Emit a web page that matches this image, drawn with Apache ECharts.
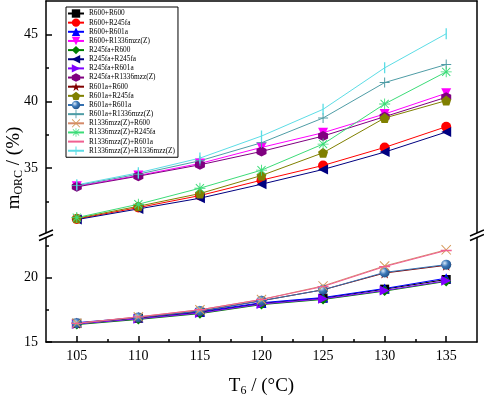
<!DOCTYPE html>
<html>
<head>
<meta charset="utf-8">
<script src="https://cdn.jsdelivr.net/npm/echarts@6/dist/echarts.min.js"></script>
<style>
  html, body { margin: 0; padding: 0; background: #fff; }
  #chart { width: 484px; height: 398px; }
</style>
</head>
<body>
<div id="chart"></div>
<script>
// temperatures T6 (°C)
var temps = [105, 110, 115, 120, 125, 130, 135];
var xTicks = [105, 110, 115, 120, 125, 130, 135];
var xMinorTicks = [107.5, 112.5, 117.5, 122.5, 127.5, 132.5];
var yTicksTop = [35, 40, 45];
var yMinorTop = [32.5, 37.5, 42.5];
var yTicksBottom = [15, 20];
var yMinorBottom = [17.5, 22.5];

var seriesNames = [
    'R600+R600', 'R600+R245fa', 'R600+R601a', 'R600+R1336mzz(Z)',
    'R245fa+R600', 'R245fa+R245fa', 'R245fa+R601a', 'R245fa+R1336mzz(Z)',
    'R601a+R600', 'R601a+R245fa', 'R601a+R601a', 'R601a+R1336mzz(Z)',
    'R1336mzz(Z)+R600', 'R1336mzz(Z)+R245fa', 'R1336mzz(Z)+R601a', 'R1336mzz(Z)+R1336mzz(Z)'
];

// m_ORC (%)
var r600_r600 = [16.45, 16.85, 17.30, 18.00, 18.40, 19.10, 19.85];
var r600_r245fa = [31.20, 32.05, 32.95, 34.10, 35.20, 36.55, 38.10];
var r600_r601a = [16.50, 16.90, 17.35, 18.05, 18.45, 19.15, 19.95];
var r600_r1336 = [33.65, 34.45, 35.35, 36.55, 37.65, 39.05, 40.60];
var r245fa_r600 = [16.35, 16.75, 17.20, 17.90, 18.30, 18.95, 19.70];
var r245fa_r245fa = [31.15, 31.95, 32.75, 33.80, 34.90, 36.20, 37.70];
var r245fa_r601a = [16.40, 16.80, 17.25, 17.95, 18.35, 19.00, 19.75];
var r245fa_r1336 = [33.60, 34.40, 35.25, 36.25, 37.40, 38.85, 40.30];
var r601a_r600 = [16.45, 16.90, 17.40, 18.20, 19.05, 20.35, 20.95];
var r601a_r245fa = [31.25, 32.15, 33.10, 34.45, 36.15, 38.75, 40.05];
var r601a_r601a = [16.45, 16.90, 17.40, 18.20, 19.05, 20.40, 21.00];
var r601a_r1336 = [33.70, 34.55, 35.55, 36.90, 38.75, 41.40, 42.75];
var r1336_r600 = [16.45, 16.95, 17.50, 18.30, 19.35, 20.90, 22.15];
var r1336_r245fa = [31.30, 32.30, 33.50, 34.85, 36.80, 39.80, 42.20];
var r1336_r601a = [16.45, 16.95, 17.50, 18.30, 19.30, 20.85, 22.10];
var r1336_r1336 = [33.75, 34.65, 35.75, 37.40, 39.40, 42.50, 45.05];

var seriesValues = [
    r600_r600, r600_r245fa, r600_r601a, r600_r1336,
    r245fa_r600, r245fa_r245fa, r245fa_r601a, r245fa_r1336,
    r601a_r600, r601a_r245fa, r601a_r601a, r601a_r1336,
    r1336_r600, r1336_r245fa, r1336_r601a, r1336_r1336
];
// 0 = upper part of the broken axis, 1 = lower part
var seriesPanel = [1, 0, 1, 0, 1, 0, 1, 0, 1, 0, 1, 0, 1, 0, 1, 0];

var sphere = {
    type: 'radial', x: 0.35, y: 0.35, r: 0.75,
    colorStops: [{offset: 0, color: '#d8e8fa'}, {offset: 0.45, color: '#3c78b8'}, {offset: 1, color: '#1d4a80'}]
};
var colors = [
    '#000000', '#ff0000', '#0000ff', '#ff00ff',
    '#008000', '#000080', '#8000ff', '#800080',
    '#800000', '#808000', '#3470b0', '#4f9da6',
    '#d49a5a', '#3cdc78', '#f06090', '#5cdde6'
];
var lineColors = colors.slice();
lineColors[12] = '#d48a6a';

// corner points (zero length) keep the square bounding box for thin bars
var box = ' M0,0 L0,0 Z M10,10 L10,10 Z';
var P = {
    down: 'path://M0,0 L10,0 L5,9 Z',
    left: 'path://M10,0 L0,5 L10,10 Z',
    right: 'path://M0,0 L10,5 L0,10 Z',
    hex: 'path://M5,0 L9.33,2.5 L9.33,7.5 L5,10 L0.67,7.5 L0.67,2.5 Z',
    star: 'path://M5,0 L6.2,3.6 L10,3.6 L6.9,5.9 L8.1,9.5 L5,7.3 L1.9,9.5 L3.1,5.9 L0,3.6 L3.8,3.6 Z',
    pent: 'path://M5,0 L10,3.7 L8.1,9.5 L1.9,9.5 L0,3.7 Z',
    plus: 'path://M4.5,0 L5.5,0 L5.5,4.5 L10,4.5 L10,5.5 L5.5,5.5 L5.5,10 L4.5,10 L4.5,5.5 L0,5.5 L0,4.5 L4.5,4.5 Z',
    cross: 'path://M0,0.7 L0.7,0 L5,4.3 L9.3,0 L10,0.7 L5.7,5 L10,9.3 L9.3,10 L5,5.7 L0.7,10 L0,9.3 L4.3,5 Z',
    aster: 'path://M4.6,0 L5.4,0 L5.4,4.6 L10,4.6 L10,5.4 L5.4,5.4 L5.4,10 L4.6,10 L4.6,5.4 L0,5.4 L0,4.6 L4.6,4.6 Z M1,1.6 L1.6,1 L5,4.4 L8.4,1 L9,1.6 L5.6,5 L9,8.4 L8.4,9 L5,5.6 L1.6,9 L1,8.4 L4.4,5 Z',
    hbar: 'path://M0,4.4 L10,4.4 L10,5.6 L0,5.6 Z' + box,
    vbar: 'path://M4.4,0 L5.6,0 L5.6,10 L4.4,10 Z' + box
};
var symbols = [
    'rect', 'circle', 'triangle', P.down,
    'diamond', P.left, P.right, P.hex,
    P.star, P.pent, 'circle', P.plus,
    P.cross, P.aster, P.hbar, P.vbar
];
var symbolSizes = [9, 10, 10, 10, 10, 10, 10, 10, 11, 10, 10, 10, 10, 11, 11, 11];

var chart = echarts.init(document.getElementById('chart'));
var serif = 'Liberation Serif';
var axisBlack = {show: true, lineStyle: {color: '#000', width: 1.5}};

var series = seriesNames.map(function (name, i) {
    return {
        name: name,
        type: 'line',
        xAxisIndex: seriesPanel[i] === 0 ? 0 : 1,
        yAxisIndex: seriesPanel[i] === 0 ? 0 : 3,
        data: temps.map(function (t, k) { return [t, seriesValues[i][k]]; }),
        symbol: symbols[i],
        symbolSize: symbolSizes[i],
        showAllSymbol: true,
        animation: false,
        itemStyle: {color: i === 10 ? sphere : colors[i], opacity: 1},
        lineStyle: {color: lineColors[i], width: 1},
        emphasis: {disabled: true}
    };
});

function minorY(grid, min, max, vals) {
    return {
        type: 'value', gridIndex: grid, min: min, max: max, position: 'left',
        axisLine: {show: false}, splitLine: {show: false}, axisLabel: {show: false},
        axisTick: {show: true, inside: true, length: 3, customValues: vals, lineStyle: {color: '#000', width: 1.5}}
    };
}
function rightY(grid, min, max) {
    return {
        type: 'value', gridIndex: grid, min: min, max: max, position: 'right',
        axisLine: axisBlack, splitLine: {show: false}, axisLabel: {show: false}, axisTick: {show: false}
    };
}

var option = {
    backgroundColor: '#fff',
    animation: false,
    grid: [
        {left: 46, right: 7, top: 1, height: 234},
        {left: 46, right: 7, top: 235, bottom: 52}
    ],
    xAxis: [
        {
            type: 'value', gridIndex: 0, min: 102.5, max: 137.5, position: 'top',
            axisLine: axisBlack, axisTick: {show: false}, axisLabel: {show: false}, splitLine: {show: false}
        },
        {
            type: 'value', gridIndex: 1, min: 102.5, max: 137.5, position: 'bottom',
            axisLine: axisBlack, splitLine: {show: false},
            axisTick: {show: true, inside: true, length: 6, customValues: xTicks, lineStyle: {color: '#000', width: 1.5}},
            axisLabel: {customValues: xTicks, color: '#000', fontFamily: serif, fontSize: 14, margin: 7},
            name: '{a|T}{s|6}{a| / (°C)}',
            nameLocation: 'middle',
            nameGap: 34,
            nameTextStyle: {
                color: '#000',
                rich: {
                    a: {fontFamily: serif, fontSize: 19, color: '#000'},
                    s: {fontFamily: serif, fontSize: 12, color: '#000', padding: [9, 0, 0, 0]}
                }
            }
        },
        {
            type: 'value', gridIndex: 1, min: 102.5, max: 137.5, position: 'bottom',
            axisLine: {show: false}, splitLine: {show: false}, axisLabel: {show: false},
            axisTick: {show: true, inside: true, length: 3, customValues: xMinorTicks, lineStyle: {color: '#000', width: 1.5}}
        }
    ],
    yAxis: [
        {
            type: 'value', gridIndex: 0, min: 30, max: 47.5, position: 'left',
            axisLine: axisBlack, splitLine: {show: false},
            axisTick: {show: true, inside: true, length: 6, customValues: yTicksTop, lineStyle: {color: '#000', width: 1.5}},
            axisLabel: {customValues: yTicksTop, color: '#000', fontFamily: serif, fontSize: 14, margin: 8}
        },
        minorY(0, 30, 47.5, yMinorTop),
        rightY(0, 30, 47.5),
        {
            type: 'value', gridIndex: 1, min: 15, max: 23.3, position: 'left',
            axisLine: axisBlack, splitLine: {show: false},
            axisTick: {show: true, inside: true, length: 6, customValues: yTicksBottom, lineStyle: {color: '#000', width: 1.5}},
            axisLabel: {customValues: yTicksBottom, color: '#000', fontFamily: serif, fontSize: 14, margin: 8}
        },
        minorY(1, 15, 23.3, yMinorBottom),
        rightY(1, 15, 23.3)
    ],
    legend: {
        orient: 'vertical',
        left: 66,
        top: 7,
        padding: [2, 3, 2, 1],
        itemGap: 0.15,
        itemWidth: 16,
        itemHeight: 10.5,
        borderColor: '#000',
        borderWidth: 1,
        backgroundColor: '#fff',
        textStyle: {fontFamily: serif, fontSize: 7.3, lineHeight: 9, color: '#000'},
        data: seriesNames
    },
    graphic: [
        {
            type: 'text', x: 14, y: 168, rotation: Math.PI / 2,
            style: {
                text: '{a|m}{s|ORC}{a| / (%)}',
                align: 'center', verticalAlign: 'middle',
                rich: {
                    a: {fontFamily: serif, fontSize: 19, fill: '#000'},
                    s: {fontFamily: serif, fontSize: 12, fill: '#000', padding: [9, 0, 0, 0]}
                }
            }
        },
        // axis break marks
        {type: 'rect', z: 100, shape: {x: 44, y: 233, width: 5, height: 4}, style: {fill: '#fff'}},
        {type: 'line', z: 101, shape: {x1: 39, y1: 236, x2: 53, y2: 230}, style: {stroke: '#000', lineWidth: 1.5}},
        {type: 'line', z: 101, shape: {x1: 39, y1: 240.5, x2: 53, y2: 234.5}, style: {stroke: '#000', lineWidth: 1.5}},
        {type: 'rect', z: 100, shape: {x: 475, y: 233, width: 5, height: 4}, style: {fill: '#fff'}},
        {type: 'line', z: 101, shape: {x1: 470, y1: 236, x2: 484, y2: 230}, style: {stroke: '#000', lineWidth: 1.5}},
        {type: 'line', z: 101, shape: {x1: 470, y1: 240.5, x2: 484, y2: 234.5}, style: {stroke: '#000', lineWidth: 1.5}}
    ],
    series: series
};
chart.setOption(option);
</script>
</body>
</html>
